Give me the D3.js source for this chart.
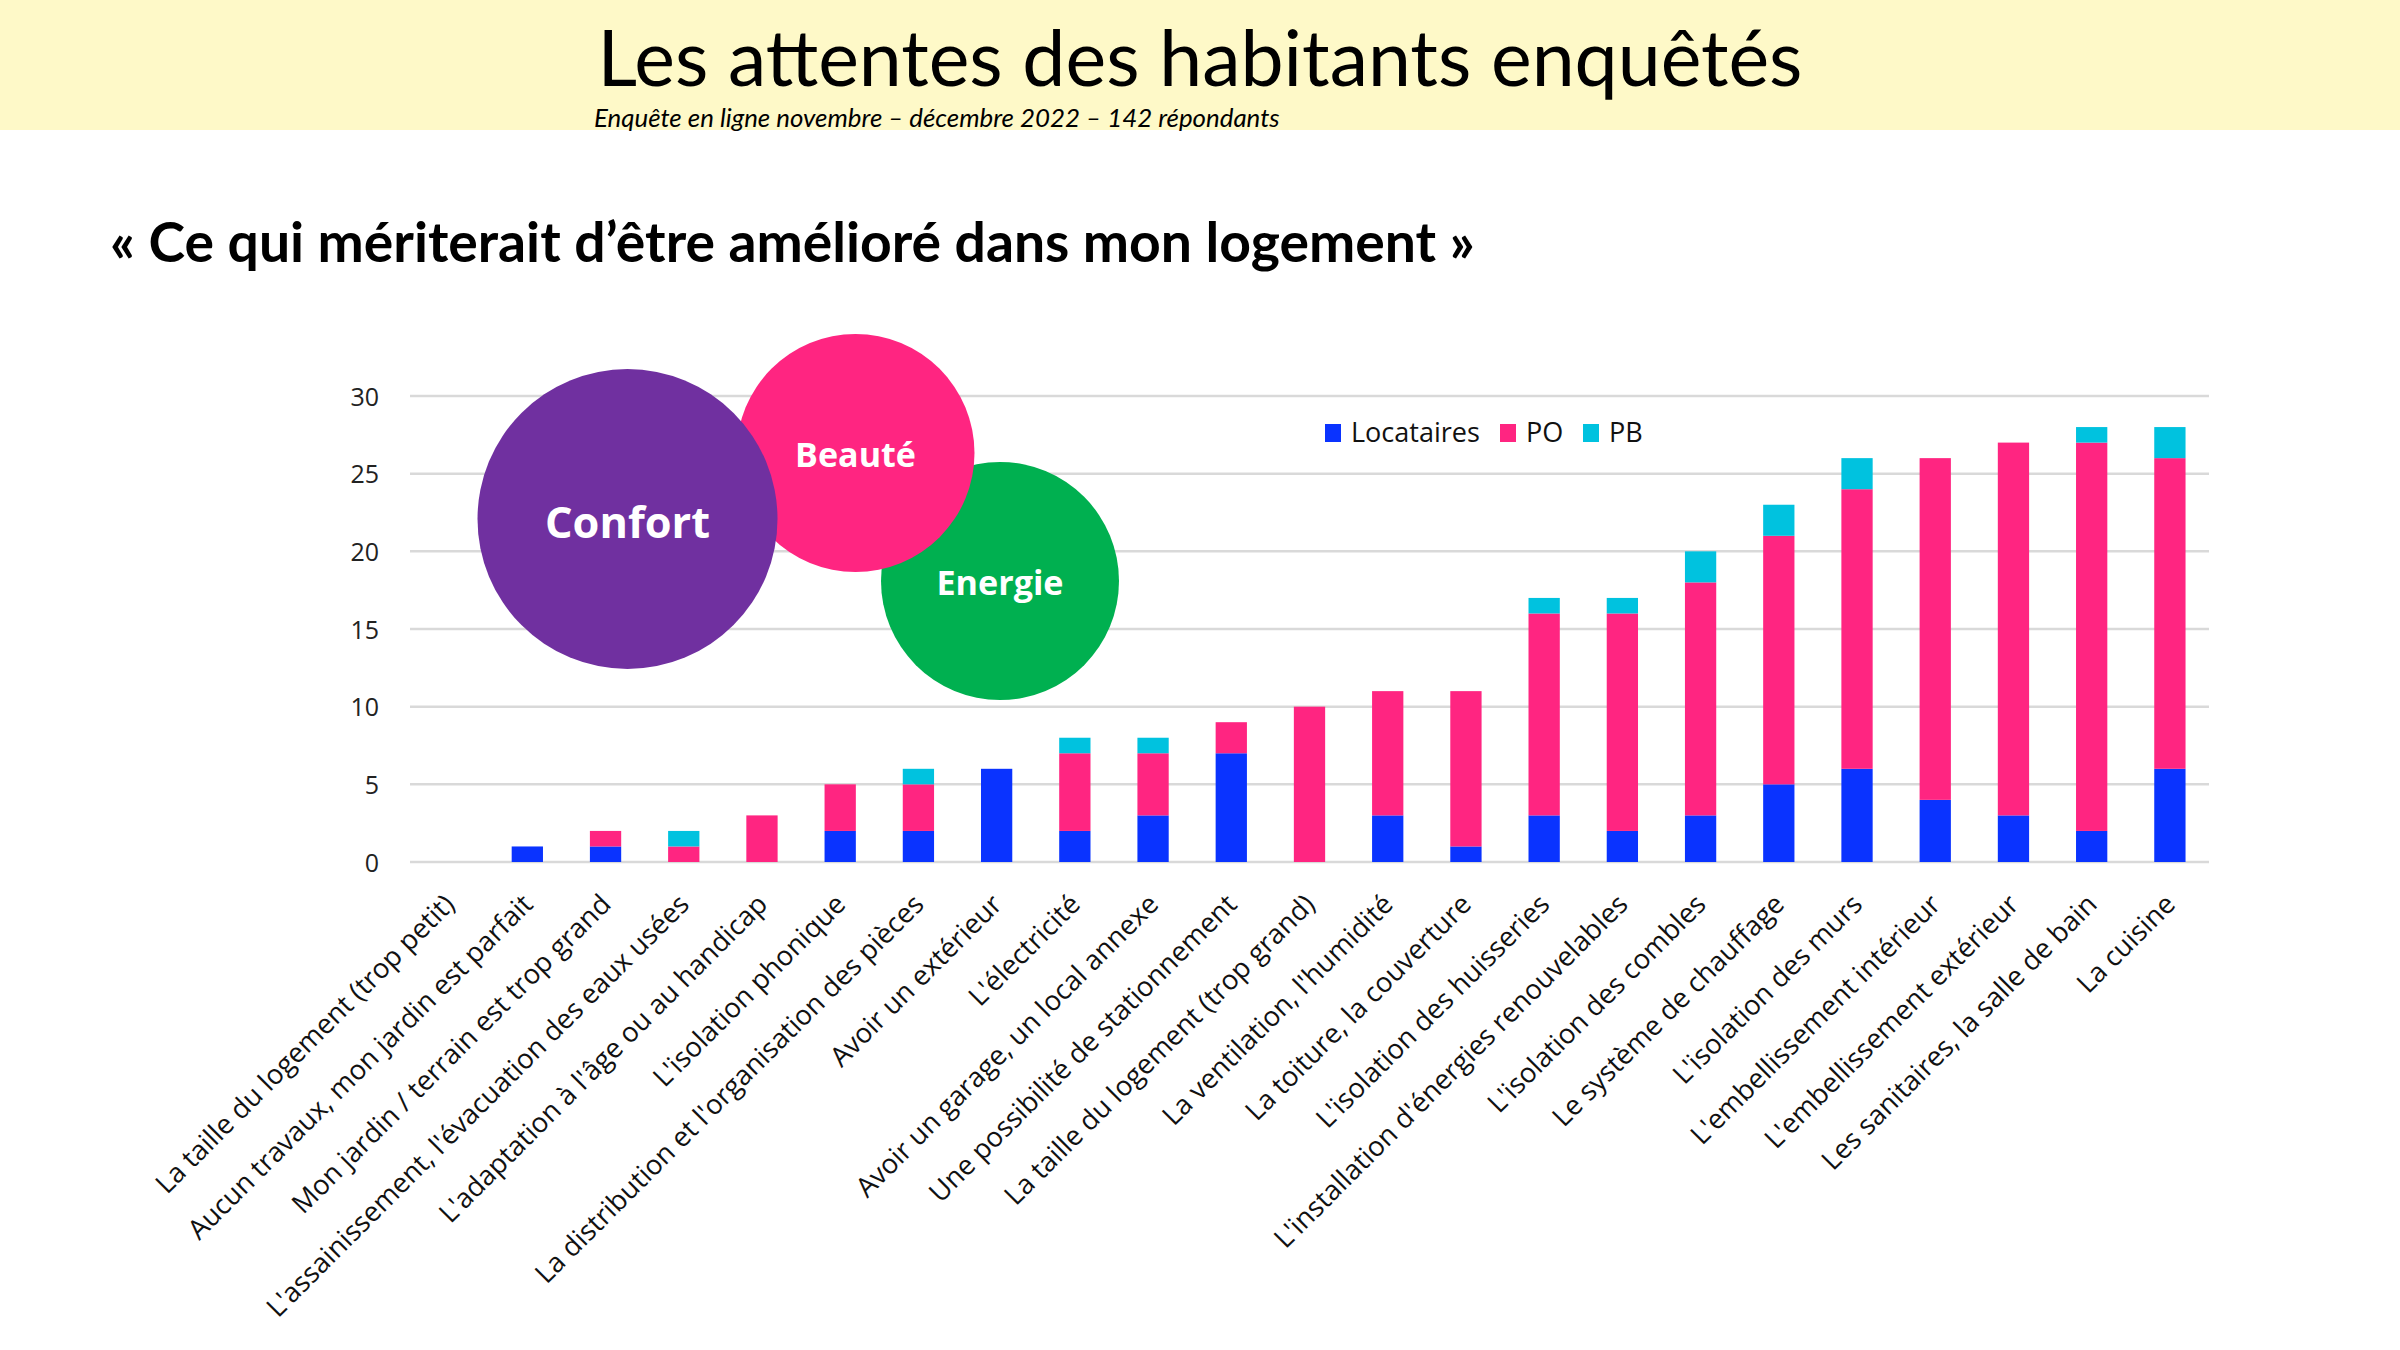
<!DOCTYPE html>
<html><head><meta charset="utf-8">
<script src="https://cdn.jsdelivr.net/npm/d3@7"></script>
<style>
body{margin:0;background:#fff;}
svg{display:block;font-family:Lato,'Noto Sans',sans-serif;}
</style>
</head><body>
<svg id="c" width="2400" height="1350"></svg>
<script>
const categories = [
  "La taille du logement (trop petit)",
  "Aucun travaux, mon jardin est parfait",
  "Mon jardin / terrain est trop grand",
  "L'assainissement, l'évacuation des eaux usées",
  "L'adaptation à l'âge ou au handicap",
  "L'isolation phonique",
  "La distribution et l'organisation des pièces",
  "Avoir un extérieur",
  "L'électricité",
  "Avoir un garage, un local annexe",
  "Une possibilité de stationnement",
  "La taille du logement (trop grand)",
  "La ventilation, l'humidité",
  "La toiture, la couverture",
  "L'isolation des huisseries",
  "L'installation d'énergies renouvelables",
  "L'isolation des combles",
  "Le système de chauffage",
  "L'isolation des murs",
  "L'embellissement intérieur",
  "L'embellissement extérieur",
  "Les sanitaires, la salle de bain",
  "La cuisine"
];
const locataires = [0,1,1,0,0,2,2,6,2,3,7,0,3,1,3,2,3,5,6,4,3,2,6];
const po         = [0,0,1,1,3,3,3,0,5,4,2,10,8,10,13,14,15,16,18,22,24,25,20];
const pb         = [0,0,0,1,0,0,1,0,1,1,0,0,0,0,1,1,2,2,2,0,0,1,2];
const seriesNames = ["Locataires","PO","PB"];
const seriesColors = ["#0A33FF","#FF2581","#00C2DF"];
const yTicks = [0,5,10,15,20,25,30];
const bubbleLabels = ["Energie","Beauté","Confort"];
const bubbleColors = ["#00B050","#FF2581","#7030A0"];

const svg = d3.select("#c");
const F2 = "'Open Sans',Lato,sans-serif";

function fitWidth(sel, target){
  const w = sel.node().getComputedTextLength();
  const fs = parseFloat(sel.attr("font-size"));
  const nf = fs*target/w;
  sel.attr("font-size", nf);
  return nf;
}

// header band
svg.append("rect").attr("x",0).attr("y",0).attr("width",2400).attr("height",130).attr("fill","#FEF9C8");
const title = svg.append("text").attr("x",1200).attr("y",86).attr("text-anchor","middle")
  .attr("font-size",70).attr("fill","#000").attr("font-weight",400)
  .text("Les attentes des habitants enquêtés");
fitWidth(title, 1205);
const sub = svg.append("text").attr("x",594).attr("y",127)
  .attr("font-size",20).attr("font-style","italic").attr("fill","#000")
  .text("Enquête en ligne novembre – décembre 2022 – 142 répondants");
fitWidth(sub, 686);
const head = svg.append("text").attr("x",110).attr("y",262)
  .attr("font-size",46).attr("font-weight",700).attr("fill","#000")
  .text("« Ce qui mériterait d’être amélioré dans mon logement »");
fitWidth(head, 1365);

// scales
const x = d3.scaleBand().domain(categories).range([410,2209]).paddingInner(0.6).paddingOuter(0.3);
const y = d3.scaleLinear().domain([0,30]).range([862,396]);

// grid
svg.append("g").selectAll("line").data(yTicks).join("line")
  .attr("x1",410).attr("x2",2209)
  .attr("y1",d=>y(d)).attr("y2",d=>y(d))
  .attr("stroke","#D9D9D9").attr("stroke-width",2.5);

// y axis labels
const yAxis = d3.axisLeft(y).tickValues(yTicks).tickSize(0).tickPadding(0);
const ya = svg.append("g").attr("transform","translate(379,0)").call(yAxis);
ya.select(".domain").remove();
ya.selectAll("text").attr("font-size",25).attr("font-family",F2).attr("fill","#222").attr("dy","0.36em");

// stacked bars
const table = categories.map((c,i)=>({cat:c, Locataires:locataires[i], PO:po[i], PB:pb[i]}));
const stack = d3.stack().keys(seriesNames)(table);
svg.append("g").selectAll("g").data(stack).join("g")
  .attr("fill",(d,i)=>seriesColors[i])
  .selectAll("rect").data(d=>d).join("rect")
  .attr("x",d=>x(d.data.cat))
  .attr("width",x.bandwidth())
  .attr("y",d=>y(d[1]))
  .attr("height",d=>Math.max(0,y(d[0])-y(d[1])));

// x labels
const xl = svg.append("g").attr("font-family",F2);
const labels = categories.map(c=>xl.append("text")
    .attr("transform",`translate(${x(c)+x.bandwidth()/2+7},906) rotate(-45)`)
    .attr("text-anchor","end").attr("font-size",26).attr("fill","#111")
    .text(c));
const lfs = fitWidth(labels[3], 584);
labels.forEach(l=>l.attr("font-size",lfs));

// bubbles (Energie bottom, Confort top)
const bub = [
  {cx:1000, cy:581, r:119, w:127, base:595},
  {cx:855.5, cy:453, r:119, w:121, base:467},
  {cx:627.5, cy:519, r:150, w:165, base:538}
];
bub.forEach((b,i)=>{
  svg.append("circle").attr("cx",b.cx).attr("cy",b.cy).attr("r",b.r).attr("fill",bubbleColors[i]);
  const t = svg.append("text").attr("x",b.cx).attr("y",b.base).attr("text-anchor","middle")
    .attr("font-family",F2).attr("font-size",32).attr("font-weight",700).attr("fill","#fff").text(bubbleLabels[i]);
  fitWidth(t, b.w);
});

// legend
const leg = svg.append("g").attr("font-family",F2);
const legX = [1325,1500,1583];
let legFs = 25;
seriesNames.forEach((s,i)=>{
  leg.append("rect").attr("x",legX[i]).attr("y",424).attr("width",16).attr("height",18).attr("fill",seriesColors[i]);
  const t = leg.append("text").attr("x",legX[i]+26).attr("y",442).attr("font-size",legFs).attr("fill","#111").text(s);
  if(i===0){ legFs = fitWidth(t,129); }
});
</script>
</body></html>
